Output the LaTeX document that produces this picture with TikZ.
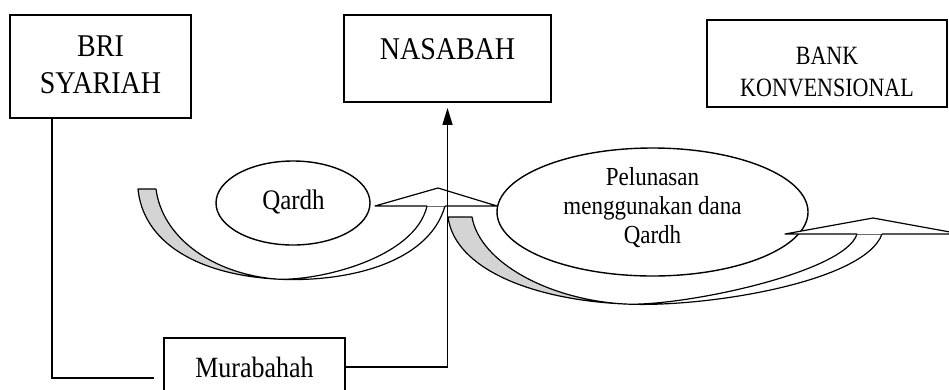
\documentclass[tikz,border=0pt]{standalone}
\usepackage{fontspec}
\usepackage{graphicx}
\setmainfont{Liberation Serif}
\usetikzlibrary{arrows.meta,shapes.geometric}
\definecolor{shade}{RGB}{212,212,212}
\newcommand\tallt[1]{\scalebox{1}[1.13]{#1}}
\begin{document}
\begin{tikzpicture}[x=1pt,y=-1pt,
  boxst/.style={draw, line width=1.8pt, inner sep=0pt},
  ell/.style={draw, ellipse, line width=1.4pt, inner sep=0pt},
  conn/.style={line width=1.4pt},
  band/.style={draw, line width=1.2pt, line join=round},
  txt/.style={inner sep=0pt, align=center},
  bigfont/.style={font=\fontsize{28}{37}\selectfont},
  midfont/.style={font=\fontsize{25}{30}\selectfont},
  smallfont/.style={font=\fontsize{23}{29}\selectfont}]
\useasboundingbox (0,0) rectangle (949,389);
\clip (0,0) rectangle (949,389);

% ---- curved arrow 1 (Qardh) ----
\path[band, fill=white] (275,279) .. controls (340,283) and (428,266) .. (445,206)
   -- (427,206) .. controls (415,259) and (315,282) .. (275,279) -- cycle;
\path[band, fill=shade] (138,189) -- (156,189)
   .. controls (162,236) and (210,273) .. (275,279)
   .. controls (195,274) and (143,241) .. (138,189) -- cycle;

% ---- curved arrow 2 (Pelunasan) ----
\path[band, fill=white] (625,304) .. controls (705,308) and (865,282) .. (882,234)
   -- (857,234) .. controls (845,273) and (680,307) .. (625,304) -- cycle;
\path[band, fill=shade] (448,217) -- (472,217)
   .. controls (480,263) and (550,300) .. (625,304)
   .. controls (535,300) and (455,270) .. (448,217) -- cycle;

% ---- ellipses ----
\node[ell, minimum width=154pt, minimum height=84pt] (qardh) at (293,203) {};
\node[txt, midfont, anchor=base] (qardhtext) at (293.5,209) {\tallt{Qardh}};
\node[ell, minimum width=311pt, minimum height=128pt] (pel) at (652.5,212) {};
\node[txt, smallfont] (peltext) at (652.5,207.5)
   {\tallt{Pelunasan}\\\tallt{menggunakan dana}\\\tallt{Qardh}};

% ---- arrow heads ----
\path[band, fill=white] (427,206) -- (375,206) -- (438,188) -- (497,206) -- (445,206);
\path[band, fill=white] (857,234) -- (785,234) -- (873,218) -- (961,234) -- (882,234);

% ---- boxes ----
\node[boxst, minimum width=181pt, minimum height=103pt] (bri) at (100.5,66.5) {};
\node[txt, bigfont] (britext) at (100.5,65) {\tallt{BRI}\\\tallt{SYARIAH}};
\node[boxst, minimum width=207pt, minimum height=87pt] (nas) at (447.5,58.5) {};
\node[txt, bigfont, anchor=base] (nastext) at (447.5,59) {\tallt{NASABAH}};
\node[boxst, minimum width=240pt, minimum height=87pt] (bank) at (827,63.5) {};
\node[txt, font=\fontsize{22}{32}\selectfont] (banktext) at (827,72)
   {\scalebox{1}[1.2]{BANK}\\\scalebox{1}[1.2]{KONVENSIONAL}};
\node[boxst, minimum width=181pt, minimum height=58pt] (mur) at (254.5,367) {};
\node[txt, font=\fontsize{26}{30}\selectfont, anchor=base] (murtext) at (254.5,377) {\tallt{Murabahah}};

% ---- connectors ----
\coordinate (corner) at (52,378);
\draw[conn, shorten >=9pt] (bri.south -| corner) |- (mur.west |- corner);
\draw[conn, -{Triangle[length=17pt,width=10pt]}, shorten >=5pt] (mur.east) -| (nas.south);
\end{tikzpicture}
\end{document}
